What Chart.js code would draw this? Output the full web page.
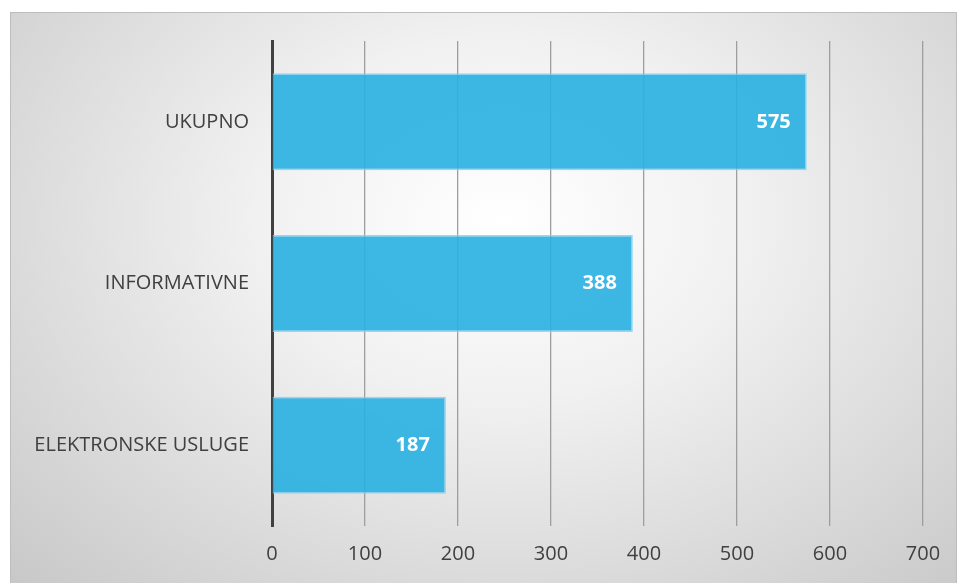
<!DOCTYPE html>
<html>
<head>
<meta charset="utf-8">
<script src="https://cdn.jsdelivr.net/npm/chart.js@4/dist/chart.umd.min.js"></script>
<style>
  html, body { margin: 0; padding: 0; background: #ffffff; }
  body { width: 959px; height: 583px; position: relative; overflow: hidden; }
  #frame {
    position: absolute; left: 10px; top: 12px; width: 947px; height: 571px;
    box-sizing: border-box; border: 1px solid #bdbdbd; border-bottom: none;
    background: radial-gradient(ellipse farthest-corner at 52% 36%, #ffffff 0%, #f1f1f1 35%, #c8c8c8 100%);
  }
  #wrap { position: absolute; left: 0; top: 0; width: 945px; height: 570px; }
</style>
</head>
<body>
<div id="frame"><div id="wrap"><canvas id="c"></canvas></div></div>
<script>
const categories = ["UKUPNO", "INFORMATIVNE", "ELEKTRONSKE USLUGE"];
const values = [575, 388, 187];
const xTicks = [0, 100, 200, 300, 400, 500, 600, 700];

const labelPlugin = {
  id: 'valueLabels',
  afterDatasetsDraw(chart) {
    const ctx = chart.ctx;
    const meta = chart.getDatasetMeta(0);
    ctx.save();
    ctx.font = 'bold 20px "Open Sans"';
    ctx.fillStyle = '#ffffff';
    ctx.textAlign = 'right';
    ctx.textBaseline = 'middle';
    meta.data.forEach((el, i) => {
      ctx.fillText(String(values[i]), el.x - 16, el.y);
    });
    ctx.restore();
  }
};

new Chart(document.getElementById('c'), {
  type: 'bar',
  data: {
    labels: categories,
    datasets: [{
      data: values,
      backgroundColor: 'rgba(40,175,225,0.9)',
      borderColor: 'rgba(130,210,242,0.85)',
      borderWidth: 1.5,
      borderSkipped: 'left',
      categoryPercentage: 1.0,
      barPercentage: 0.6
    }]
  },
  options: {
    indexAxis: 'y',
    responsive: true,
    maintainAspectRatio: false,
    animation: false,
    layout: { padding: { top: 28, right: 33, left: 0, bottom: 0 } },
    plugins: { legend: { display: false }, tooltip: { enabled: false } },
    scales: {
      x: {
        min: 0, max: 700,
        afterBuildTicks(scale) { scale.ticks = xTicks.map(v => ({ value: v })); },
        afterFit(scale) { scale.height = 57; scale.paddingLeft = 0; scale.paddingRight = 0; },
        grid: { color: '#9e9e9e', lineWidth: 1.3, drawTicks: false },
        border: { display: false },
        ticks: { color: '#404040', font: { family: 'Open Sans', size: 20 }, padding: 16 }
      },
      y: {
        afterFit(scale) { scale.width = 261; scale.paddingTop = 0; scale.paddingBottom = 0; },
        grid: { display: false, drawTicks: false },
        border: { display: true, color: '#404040', width: 3 },
        ticks: { color: '#404040', font: { family: 'Open Sans', size: 20 }, padding: 23 }
      }
    }
  },
  plugins: [labelPlugin]
});
</script>
</body>
</html>
